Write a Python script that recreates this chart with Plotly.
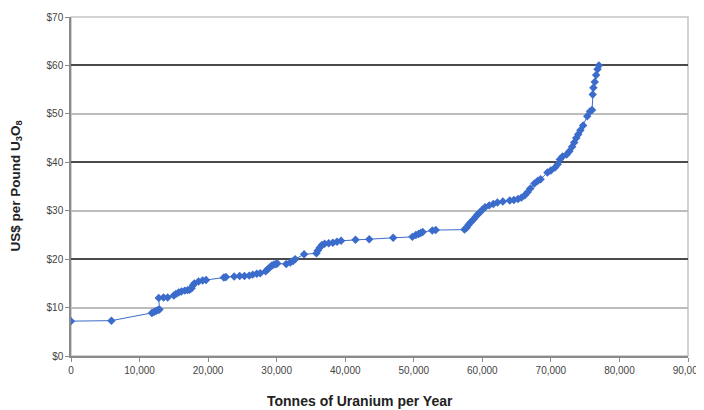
import plotly.graph_objects as go

tonnes = [0, 5900, 11800, 12100, 12400, 12700, 12900, 12800, 13500, 14100,
          15000, 15300, 15700, 16100, 16600, 17000, 17300, 17600, 17800, 18000,
          18600, 19200, 19700, 22300, 22600, 23800, 24600, 25300, 26000, 26500,
          27100, 27600, 28400, 28700, 29000, 29300, 29600, 29900, 30100, 31400,
          32000, 32400, 32700, 34000, 35800, 36000, 36300, 36600, 37000, 37600,
          38200, 38800, 39400, 41500, 43500, 47000, 49800, 50300, 50700, 51000,
          51300, 52700, 53200, 57400, 57700, 58000, 58300, 58700, 59000, 59300,
          59600, 60000, 60400, 61000, 61600, 62200, 63000, 64000, 64600, 65200,
          65700, 66200, 66600, 67000, 67600, 68100, 68500, 69500, 70000, 70600,
          71000, 71300, 71700, 72300, 72700, 73100, 73400, 73700, 74000, 74300,
          74700, 75300, 75700, 76000, 76100, 76200, 76400, 76600, 76800, 77000]
price = [7.2, 7.3, 8.9, 9.1, 9.3, 9.5, 9.6, 12.0, 12.1, 12.1,
         12.5, 12.8, 13.1, 13.3, 13.5, 13.6, 13.7, 14.0, 14.6, 15.0,
         15.4, 15.6, 15.7, 16.2, 16.3, 16.4, 16.5, 16.5, 16.6, 16.8,
         17.0, 17.1, 17.5, 17.9, 18.3, 18.7, 18.9, 19.0, 19.1, 19.0,
         19.3, 19.6, 20.0, 21.0, 21.2, 21.8, 22.4, 22.9, 23.2, 23.3,
         23.4, 23.6, 23.8, 24.0, 24.1, 24.4, 24.6, 25.0, 25.2, 25.4,
         25.6, 25.9, 26.0, 26.1, 26.5, 27.1, 27.6, 28.2, 28.7, 29.2,
         29.6, 30.2, 30.7, 31.1, 31.4, 31.7, 31.9, 32.1, 32.2, 32.4,
         32.7, 33.2, 33.8, 34.6, 35.6, 36.2, 36.5, 37.9, 38.3, 38.9,
         39.6, 40.6, 41.2, 41.6, 42.3, 43.2, 44.1, 45.0, 45.8, 46.6,
         47.6, 49.5, 50.5, 50.8, 54.0, 55.4, 56.6, 58.0, 59.2, 60.0]

y_ticks = [0, 10, 20, 30, 40, 50, 60, 70]
y_tick_labels = ["$0", "$10", "$20", "$30", "$40", "$50", "$60", "$70"]
dark_grid = [20, 40, 60]
x_ticks = [0, 10000, 20000, 30000, 40000, 50000, 60000, 70000, 80000, 90000]
x_tick_labels = ["0", "10,000", "20,000", "30,000", "40,000", "50,000",
                 "60,000", "70,000", "80,000", "90,000"]

x_title = "Tonnes of Uranium per Year"
y_title = "US$ per Pound U<sub>3</sub>O<sub>8</sub>"

blue = "#3B6CCB"
font = "Liberation Sans, Arial, sans-serif"

fig = go.Figure()
fig.add_trace(go.Scatter(
    x=tonnes, y=price, mode="lines+markers",
    line=dict(color=blue, width=1),
    marker=dict(symbol="diamond", size=6.5, color=blue),
    showlegend=False, hoverinfo="x+y",
))
# invisible trace activating the overlay axis that carries the darker gridlines
fig.add_trace(go.Scatter(x=[tonnes[0]], y=[price[0]], yaxis="y2",
                         mode="markers", marker=dict(opacity=0),
                         showlegend=False, hoverinfo="skip"))

# the page has an 8px body margin, so the figure is sized to fill the rest
fig.update_layout(
    width=696, height=402,
    margin=dict(l=63, r=16, t=9, b=54),
    paper_bgcolor="white", plot_bgcolor="white",
    font=dict(family=font, color="#333333"),
    xaxis=dict(
        range=[0, 90000], tickvals=x_ticks, ticktext=x_tick_labels,
        showgrid=False, zeroline=False, automargin=False,
        showline=True, linecolor="#8a8a8a", linewidth=1.5,
        ticks="outside", ticklen=4, tickcolor="#8a8a8a",
        tickfont=dict(size=10, color="#444444"),
    ),
    yaxis=dict(
        range=[0, 70], tickvals=y_ticks, ticktext=y_tick_labels,
        showgrid=True, gridcolor="#bdbdbd", gridwidth=1.5,
        zeroline=False, automargin=False,
        showline=True, linecolor="#8a8a8a", linewidth=1.5,
        ticks="outside", ticklen=4, tickcolor="#8a8a8a",
        tickfont=dict(size=10, color="#444444"),
    ),
    yaxis2=dict(
        range=[0, 70], overlaying="y", side="left",
        tickvals=dark_grid, showticklabels=False, ticks="",
        showgrid=True, gridcolor="#4a4a4a", gridwidth=1.5,
        zeroline=False, showline=False, automargin=False,
    ),
    shapes=[dict(type="rect", xref="paper", yref="paper", x0=0, x1=1, y0=0, y1=1,
                 line=dict(color="#c4c4c4", width=1.5), layer="below")],
    annotations=[
        dict(text=x_title, xref="paper", yref="paper", x=0.468, y=-0.133,
             xanchor="center", yanchor="middle", showarrow=False,
             font=dict(size=14, color="#222222", family=font, weight="bold")),
        dict(text=y_title, xref="paper", yref="paper", x=-0.089, y=0.5,
             xanchor="center", yanchor="middle", showarrow=False, textangle=-90,
             font=dict(size=13.5, color="#222222", family=font, weight="bold")),
    ],
)

fig.write_html("out.html")
